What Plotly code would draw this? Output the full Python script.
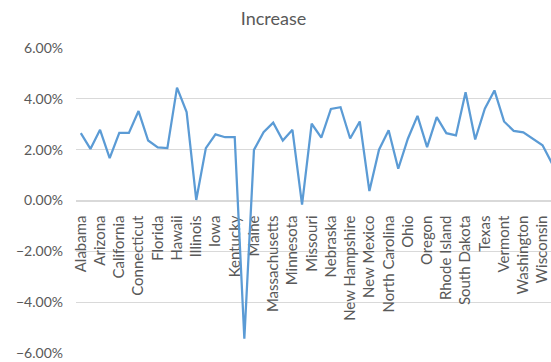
import plotly.graph_objects as go

# Year-over-year increase by state
states = [
    "Alabama", "Alaska", "Arizona", "Arkansas", "California", "Colorado",
    "Connecticut", "Delaware", "Florida", "Georgia", "Hawaii", "Idaho",
    "Illinois", "Indiana", "Iowa", "Kansas", "Kentucky", "Louisiana",
    "Maine", "Maryland", "Massachusetts", "Michigan", "Minnesota",
    "Mississippi", "Missouri", "Montana", "Nebraska", "Nevada",
    "New Hampshire", "New Jersey", "New Mexico", "New York",
    "North Carolina", "North Dakota", "Ohio", "Oklahoma", "Oregon",
    "Pennsylvania", "Rhode Island", "South Carolina", "South Dakota",
    "Tennessee", "Texas", "Utah", "Vermont", "Virginia", "Washington",
    "West Virginia", "Wisconsin", "Wyoming",
]

increase = [
    0.0265, 0.0203, 0.0278, 0.0167, 0.0266, 0.0266,
    0.0352, 0.0236, 0.0209, 0.0206, 0.0444, 0.0348,
    0.0002, 0.0206, 0.0260, 0.0249, 0.0249, -0.0544,
    0.0199, 0.0269, 0.0306, 0.0236, 0.0278,
    -0.0016, 0.0302, 0.0247, 0.0360, 0.0367,
    0.0244, 0.0311, 0.0037, 0.0200,
    0.0276, 0.0125, 0.0243, 0.0333, 0.0210,
    0.0328, 0.0265, 0.0256, 0.0426,
    0.0240, 0.0361, 0.0433, 0.0311, 0.0274, 0.0268,
    0.0243, 0.0217, 0.0145,
]

# every other state gets a label
label_states = states[::2][:25]

y_ticks = [-0.06, -0.04, -0.02, 0.0, 0.02, 0.04, 0.06]

text_color = "#595959"
grid_color = "#D9D9D9"
font_family = "Lato, 'Open Sans', sans-serif"

fig = go.Figure(
    go.Scatter(
        x=states,
        y=increase,
        mode="lines",
        line=dict(color="#5B9BD5", width=2.25),
        hoverinfo="x+y",
    )
)

fig.update_layout(
    width=551,
    height=362,
    margin=dict(l=76, r=0, t=48, b=9),
    paper_bgcolor="white",
    plot_bgcolor="white",
    showlegend=False,
    font=dict(family=font_family, color=text_color),
    title=dict(
        text="Increase",
        x=273.5 / 551,
        xref="container",
        xanchor="center",
        y=1 - 19 / 362,
        yref="container",
        yanchor="middle",
        font=dict(size=18, color=text_color, family=font_family),
    ),
)

fig.update_xaxes(
    type="category",
    categoryorder="array",
    categoryarray=states,
    range=[-0.5, 48.88],
    anchor="free",
    position=0.5,
    layer="below traces",
    showgrid=False,
    showline=True,
    linecolor=grid_color,
    linewidth=1,
    ticks="",
    tickmode="array",
    tickvals=label_states,
    ticktext=label_states,
    tickangle=-90,
    ticklabelstandoff=8,
    tickfont=dict(size=15, color=text_color, family=font_family),
)

fig.update_yaxes(
    range=[-0.06, 0.06],
    tickmode="array",
    tickvals=y_ticks,
    tickformat=".2%",
    showgrid=True,
    gridcolor=grid_color,
    gridwidth=1,
    zeroline=False,
    showline=False,
    ticks="",
    layer="below traces",
    ticklabelstandoff=12,
    tickfont=dict(size=14, color=text_color, family=font_family),
)

fig.write_html("out.html")
